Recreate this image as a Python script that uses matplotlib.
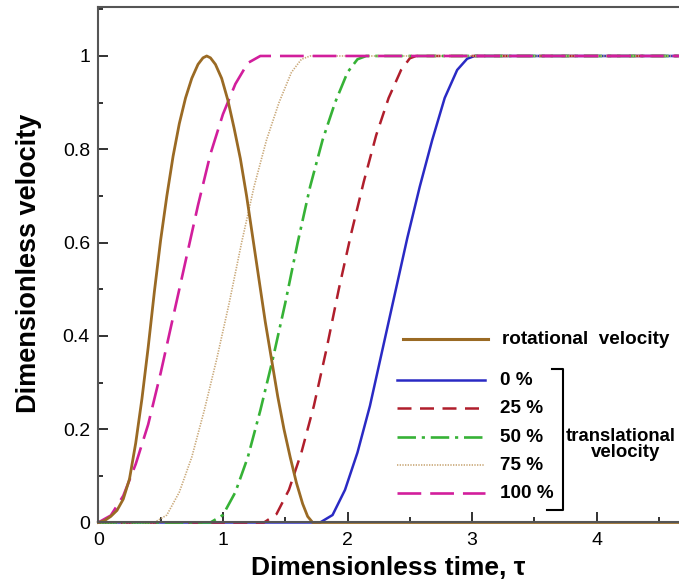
import matplotlib
matplotlib.use("Agg")
import matplotlib.pyplot as plt
from matplotlib.ticker import MultipleLocator

plt.rcParams['font.family'] = ['Liberation Sans', 'DejaVu Sans']

# rotational velocity pulse
tau_rot = [0, 0.05, 0.1, 0.15, 0.2, 0.25, 0.3, 0.35, 0.4, 0.45, 0.5, 0.55, 0.6, 0.65, 0.7,
           0.75, 0.8, 0.84, 0.87, 0.90, 0.94, 0.99, 1.04, 1.09, 1.14, 1.19, 1.24, 1.29,
           1.34, 1.39, 1.44, 1.49, 1.54, 1.59, 1.64, 1.68, 1.72, 5.0]
v_rot = [0, 0.004, 0.013, 0.026, 0.05, 0.093, 0.17, 0.265, 0.375, 0.495, 0.605, 0.70,
         0.785, 0.855, 0.91, 0.952, 0.982, 0.996, 1.0, 0.996, 0.982, 0.952, 0.905, 0.845,
         0.78, 0.70, 0.61, 0.52, 0.43, 0.35, 0.27, 0.20, 0.14, 0.085, 0.04, 0.013, 0, 0]

# translational velocity for each overlap percentage
tau_0 = [0, 1.78, 1.88, 1.98, 2.08, 2.18, 2.28, 2.38, 2.48, 2.58, 2.68, 2.78, 2.88, 2.96, 3.02, 5.0]
v_0 = [0, 0, 0.016, 0.07, 0.15, 0.25, 0.37, 0.49, 0.61, 0.72, 0.82, 0.91, 0.97, 0.994, 1, 1]

tau_25 = [0, 1.33, 1.43, 1.53, 1.63, 1.73, 1.83, 1.93, 2.03, 2.13, 2.23, 2.33, 2.43, 2.50, 2.55, 5.0]
v_25 = [0, 0, 0.018, 0.07, 0.15, 0.25, 0.37, 0.50, 0.62, 0.73, 0.83, 0.91, 0.97, 0.995, 1, 1]

tau_50 = [0, 0.90, 1.00, 1.10, 1.20, 1.30, 1.40, 1.50, 1.60, 1.70, 1.80, 1.90, 2.00, 2.08, 2.15, 5.0]
v_50 = [0, 0, 0.016, 0.065, 0.14, 0.24, 0.35, 0.47, 0.60, 0.72, 0.82, 0.90, 0.965, 0.993, 1, 1]

tau_75 = [0, 0.45, 0.55, 0.65, 0.75, 0.85, 0.95, 1.05, 1.15, 1.25, 1.35, 1.45, 1.55, 1.63, 1.70, 5.0]
v_75 = [0, 0, 0.016, 0.065, 0.14, 0.24, 0.35, 0.47, 0.60, 0.72, 0.82, 0.90, 0.965, 0.993, 1, 1]

tau_100 = [0, 0.1, 0.2, 0.3, 0.4, 0.5, 0.6, 0.7, 0.8, 0.9, 1.0, 1.1, 1.2, 1.3, 5.0]
v_100 = [0, 0.015, 0.057, 0.125, 0.21, 0.32, 0.44, 0.56, 0.68, 0.79, 0.875, 0.94, 0.985, 1, 1]

labels = ["0 %", "25 %", "50 %", "75 %", "100 %"]
colors = ["#2a2ac4", "#b01e2c", "#36b236", "#c9a878", "#d21e9c"]
styles = ["-", (0, (5.6, 3.4)), (0, (7, 2.2, 1.2, 2.2)), (0, (0.8, 0.8)), (0, (9, 3.4))]
widths = [1.8, 1.8, 1.9, 1.2, 1.9]
series = [(tau_0, v_0), (tau_25, v_25), (tau_50, v_50), (tau_75, v_75), (tau_100, v_100)]
rot_color = "#9a6a24"

fig = plt.figure(figsize=(6.79, 5.83), dpi=100)
ax = fig.add_axes([0.1448, 0.1038, 0.9175, 0.8834])

for (t, v), c, ls, lw in zip(series, colors, styles, widths):
    ax.plot(t, v, color=c, linestyle=ls, linewidth=lw, clip_on=False)
ax.plot(tau_rot, v_rot, color=rot_color, linewidth=2.0, clip_on=False)

ax.set_xlim(0, 5)
ax.set_ylim(0, 1.104)
ax.set_xticks([0, 1, 2, 3, 4])
ax.set_xticklabels(["0", "1", "2", "3", "4"])
ax.xaxis.set_minor_locator(MultipleLocator(0.5))
ax.set_yticks([0, 0.2, 0.4, 0.6, 0.8, 1.0])
ax.set_yticklabels(["0", "0.2", "0.4", "0.6", "0.8", "1"])
ax.yaxis.set_minor_locator(MultipleLocator(0.1))

ax.tick_params(which="both", direction="in", top=False, right=False, width=1.3, colors="#222222")
ax.tick_params(which="major", length=7, labelsize=14, labelcolor="black")
ax.tick_params(which="minor", length=3.5)
ax.tick_params(axis="y", pad=6)
ax.tick_params(axis="x", pad=7)
for s in ax.spines.values():
    s.set_color("#555555")
    s.set_linewidth(1.5)

ax.set_xlabel("Dimensionless time, \u03c4", fontsize=19, fontweight="bold")
ax.set_ylabel("Dimensionless velocity", fontsize=19.5, fontweight="bold")
ax.xaxis.set_label_coords(0.465, -0.065)
ax.yaxis.set_label_coords(-0.09, 0.504)

# hand-drawn legend
lfont = dict(fontsize=13.6, fontweight="bold", va="center")
ax.plot([2.445, 3.127], [0.393, 0.393], color=rot_color, linewidth=2.2)
ax.text(3.24, 0.393, "rotational  velocity", **lfont)
ys = [0.305, 0.245, 0.183, 0.123, 0.063]
for y, lab, c, ls, lw in zip(ys, labels, colors, styles, widths):
    ax.plot([2.397, 3.103], [y, y], color=c, linestyle=ls, linewidth=lw)
    ax.text(3.224, y, lab, **lfont)
ax.plot([3.639, 3.727, 3.727, 3.599], [0.329, 0.329, 0.027, 0.027], color="black", linewidth=1.5)
ax.text(4.19, 0.175, "translational", fontsize=13.4, fontweight="bold", ha="center", va="baseline")
ax.text(4.23, 0.141, "velocity", fontsize=13.4, fontweight="bold", ha="center", va="baseline")

fig.savefig("out.png", dpi=100)
